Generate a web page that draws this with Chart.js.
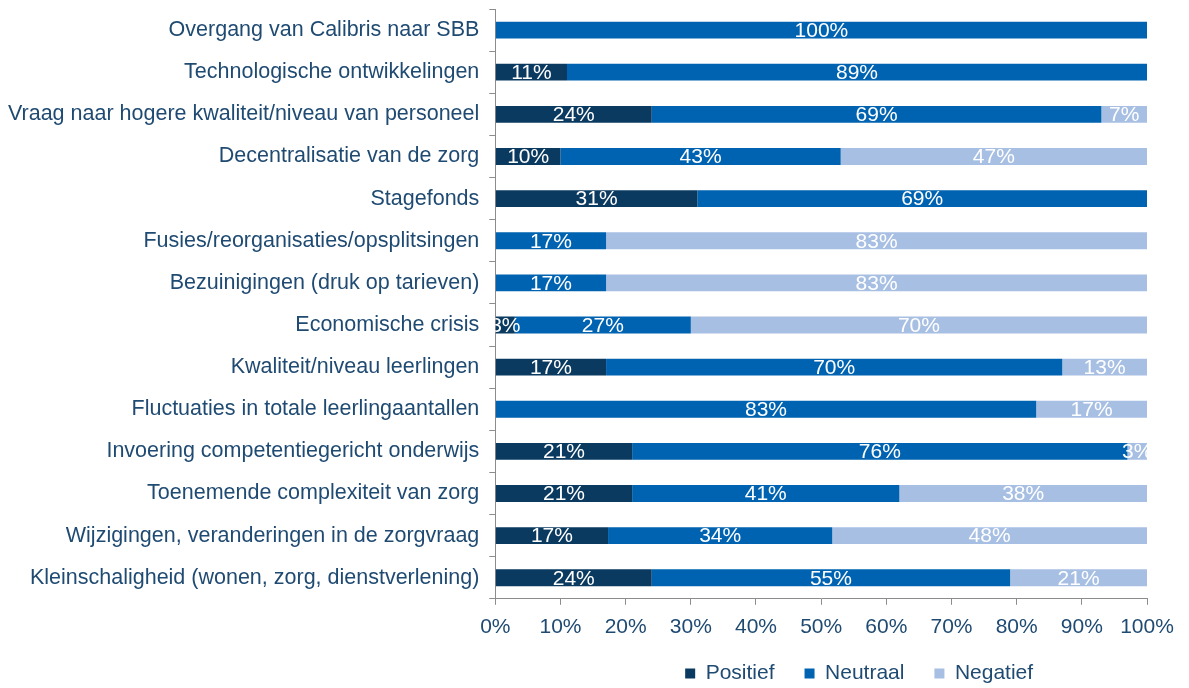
<!DOCTYPE html>
<html>
<head>
<meta charset="utf-8">
<script src="https://cdn.jsdelivr.net/npm/chart.js@4/dist/chart.umd.min.js"></script>
<style>
  body { margin: 0; background: #fff; }
  #wrap { width: 1189px; height: 688px; }
</style>
</head>
<body>
<div id="wrap"><canvas id="myChart" width="1189" height="688"></canvas></div>
<script>
const categories = [
  'Overgang van Calibris naar SBB',
  'Technologische ontwikkelingen',
  'Vraag naar hogere kwaliteit/niveau van personeel',
  'Decentralisatie van de zorg',
  'Stagefonds',
  'Fusies/reorganisaties/opsplitsingen',
  'Bezuinigingen (druk op tarieven)',
  'Economische crisis',
  'Kwaliteit/niveau leerlingen',
  'Fluctuaties in totale leerlingaantallen',
  'Invoering competentiegericht onderwijs',
  'Toenemende complexiteit van zorg',
  'Wijzigingen, veranderingen in de zorgvraag',
  'Kleinschaligheid (wonen, zorg, dienstverlening)'
];
const positief = [0, 11, 24, 10, 31, 0, 0, 3, 17, 0, 21, 21, 17.3, 24];
const neutraal = [100, 89, 69, 43, 69, 17, 17, 27, 70, 83, 76, 41, 34.4, 55];
const negatief = [0, 0, 7, 47, 0, 83, 83, 70, 13, 17, 3, 38, 48.3, 21];

const textColor = '#1f4a72';
const font = 'Liberation Sans, Arial, sans-serif';

// draws the white % labels in the middle of each segment
const segmentLabels = {
  id: 'segmentLabels',
  afterDatasetsDraw(chart) {
    const ctx = chart.ctx;
    const area = chart.chartArea;
    ctx.save();
    ctx.beginPath();
    ctx.rect(area.left, 0, chart.width - area.left, chart.height);
    ctx.clip();
    ctx.font = '21px ' + font;
    ctx.fillStyle = '#ffffff';
    ctx.textAlign = 'center';
    ctx.textBaseline = 'middle';
    chart.data.datasets.forEach((ds, i) => {
      const meta = chart.getDatasetMeta(i);
      meta.data.forEach((bar, j) => {
        const v = ds.data[j];
        if (!v) return;
        const x = (bar.x + bar.base) / 2;
        ctx.fillText(Math.round(v) + '%', x, bar.y + 1);
      });
    });
    ctx.restore();
  }
};

// nudge the legend right and up, like the original
const legendShift = {
  id: 'legendShift',
  afterLayout(chart) {
    chart.legend.left += 38;
    chart.legend.right += 38;
    chart.legend.top -= 17;
    chart.legend.bottom -= 17;
  }
};

const ctx = document.getElementById('myChart');
new Chart(ctx, {
  type: 'bar',
  data: {
    labels: categories,
    datasets: [
      { label: 'Positief', data: positief, backgroundColor: '#0b3a60' },
      { label: 'Neutraal', data: neutraal, backgroundColor: '#0063b1' },
      { label: 'Negatief', data: negatief, backgroundColor: '#a7bfe3' }
    ]
  },
  options: {
    indexAxis: 'y',
    responsive: false,
    animation: false,
    categoryPercentage: 1,
    barPercentage: 0.4,
    layout: { padding: { top: 9, right: 42, left: -2, bottom: -23 } },
    scales: {
      x: {
        stacked: true,
        min: 0,
        max: 100,
        ticks: {
          stepSize: 10,
          callback: v => v + '%',
          color: textColor,
          font: { family: font, size: 21 },
          padding: 10
        },
        grid: { drawOnChartArea: false, tickLength: 6, color: '#8c8c8c' },
        border: { color: '#8c8c8c' }
      },
      y: {
        stacked: true,
        afterFit(scale) {
          scale.paddingTop = 0;
          scale.paddingBottom = 0;
        },
        ticks: {
          color: textColor,
          font: { family: font, size: 21.5 },
          padding: 10,
          autoSkip: false
        },
        grid: { drawOnChartArea: false, tickLength: 6, color: '#8c8c8c', offset: true },
        border: { color: '#8c8c8c' }
      }
    },
    plugins: {
      tooltip: { enabled: false },
      legend: {
        position: 'bottom',
        fullSize: false,
        labels: {
          boxWidth: 10,
          boxHeight: 10,
          padding: 30,
          color: textColor,
          font: { family: font, size: 21 }
        }
      }
    }
  },
  plugins: [segmentLabels, legendShift]
});
</script>
</body>
</html>
